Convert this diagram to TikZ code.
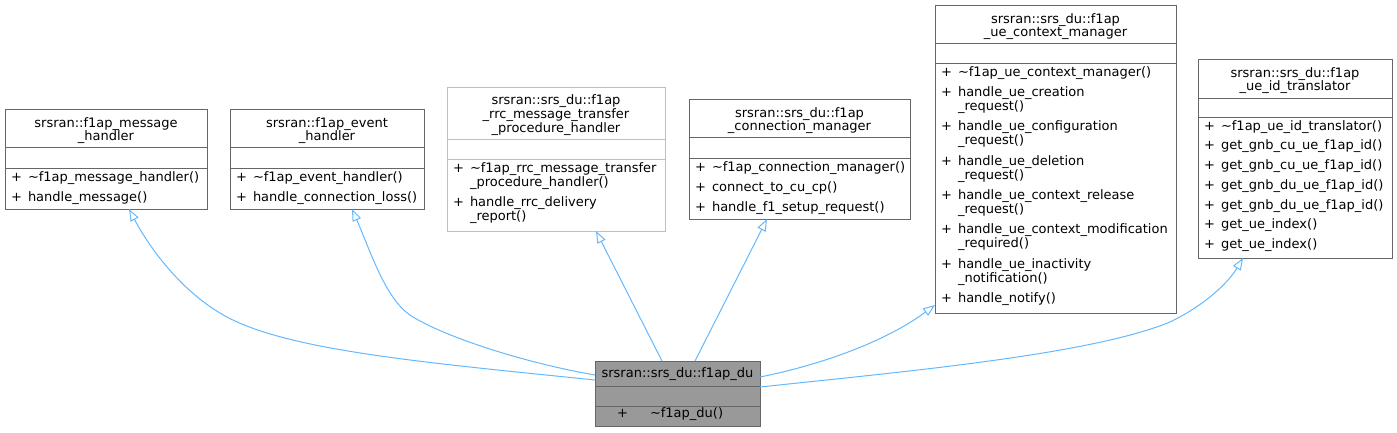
\documentclass[tikz,border=0pt]{standalone}
\usepackage{fontspec}
\usetikzlibrary{arrows.meta,calc}
\newfontfamily\dvsans{DejaVu Sans}
\newcommand\umlfont{\dvsans\fontsize{13bp}{14bp}\selectfont}
\definecolor{edgeblue}{HTML}{63B8FF}
\definecolor{boxgray}{HTML}{666666}
\definecolor{lightgray}{HTML}{BFBFBF}
\definecolor{dufill}{HTML}{999999}
\tikzset{
  umlbox/.style={draw=boxgray, line width=1bp, inner sep=0pt, outer sep=0pt, anchor=north west},
  sepline/.style={draw=boxgray, line width=1bp},
  ttl/.style={inner sep=0pt, outer sep=0pt, anchor=base, font=\umlfont},
  memb/.style={inner sep=0pt, outer sep=0pt, anchor=base west, font=\umlfont},
  inh/.style={draw=edgeblue, line width=1bp, -{Triangle[open, length=12bp, width=9bp]}},
}
\begin{document}
\begin{tikzpicture}[x=1bp,y=-1bp]
\useasboundingbox (0,0) rectangle (1397,432);
% ---------- box 1
\node[umlbox, minimum width=202bp, minimum height=100bp] (b1) at (5,109) {};
\draw[sepline] (5,147) -- (207,147) (5,168) -- (207,168);
\node[ttl] (b1t1) at (106,127) {srsran::f1ap\_message};
\node[ttl] (b1t2) at (106,140.5) {\_handler};
\node[memb] (b1p1) at (11,181) {+};
\node[memb] (b1m1) at (28,181) {\textasciitilde f1ap\_message\_handler()};
\node[memb] (b1p2) at (11,201) {+};
\node[memb] (b1m2) at (28,201) {handle\_message()};
% ---------- box 2
\node[umlbox, minimum width=194bp, minimum height=100bp] (b2) at (230,109) {};
\draw[sepline] (230,147) -- (424,147) (230,168) -- (424,168);
\node[ttl] (b2t1) at (327,127) {srsran::f1ap\_event};
\node[ttl] (b2t2) at (327,140.5) {\_handler};
\node[memb] (b2p1) at (236,181) {+};
\node[memb] (b2m1) at (253,181) {\textasciitilde f1ap\_event\_handler()};
\node[memb] (b2p2) at (236,201) {+};
\node[memb] (b2m2) at (253,201) {handle\_connection\_loss()};
% ---------- box 3
\node[umlbox, draw=lightgray, minimum width=218bp, minimum height=144bp] (b3) at (447,87) {};
\draw[sepline, draw=lightgray] (447,139) -- (665,139) (447,159) -- (665,159);
\node[ttl] (b3t1) at (556,104) {srsran::srs\_du::f1ap};
\node[ttl] (b3t2) at (556,118) {\_rrc\_message\_transfer};
\node[ttl] (b3t3) at (556,132) {\_procedure\_handler};
\node[memb] (b3p1) at (453,172) {+};
\node[memb] (b3m1) at (470,172) {\textasciitilde f1ap\_rrc\_message\_transfer};
\node[memb] (b3m1b) at (470,186) {\_procedure\_handler()};
\node[memb] (b3p2) at (453,206) {+};
\node[memb] (b3m2) at (470,206) {handle\_rrc\_delivery};
\node[memb] (b3m2b) at (470,220) {\_report()};
% ---------- box 4
\node[umlbox, minimum width=221bp, minimum height=120bp] (b4) at (689,99) {};
\draw[sepline] (689,137) -- (910,137) (689,158) -- (910,158);
\node[ttl] (b4t1) at (799.5,117) {srsran::srs\_du::f1ap};
\node[ttl] (b4t2) at (799.5,130.5) {\_connection\_manager};
\node[memb] (b4p1) at (695,171) {+};
\node[memb] (b4m1) at (712,171) {\textasciitilde f1ap\_connection\_manager()};
\node[memb] (b4p2) at (695,191) {+};
\node[memb] (b4m2) at (712,191) {connect\_to\_cu\_cp()};
\node[memb] (b4p3) at (695,211) {+};
\node[memb] (b4m3) at (712,211) {handle\_f1\_setup\_request()};
% ---------- box 5
\node[umlbox, minimum width=241bp, minimum height=308bp] (b5) at (935,5) {};
\draw[sepline] (935,43) -- (1176,43) (935,63) -- (1176,63);
\node[ttl] (b5t1) at (1055.5,23) {srsran::srs\_du::f1ap};
\node[ttl] (b5t2) at (1055.5,36.5) {\_ue\_context\_manager};
\node[memb] (b5p1) at (941,76) {+};
\node[memb] (b5m1) at (958,76) {\textasciitilde f1ap\_ue\_context\_manager()};
\node[memb] (b5p2) at (941,96.5) {+};
\node[memb] (b5m2) at (958,96.5) {handle\_ue\_creation};
\node[memb] (b5m2b) at (958,110.5) {\_request()};
\node[memb] (b5p3) at (941,130.8) {+};
\node[memb] (b5m3) at (958,130.8) {handle\_ue\_configuration};
\node[memb] (b5m3b) at (958,144.8) {\_request()};
\node[memb] (b5p4) at (941,165.1) {+};
\node[memb] (b5m4) at (958,165.1) {handle\_ue\_deletion};
\node[memb] (b5m4b) at (958,179.1) {\_request()};
\node[memb] (b5p5) at (941,199.4) {+};
\node[memb] (b5m5) at (958,199.4) {handle\_ue\_context\_release};
\node[memb] (b5m5b) at (958,213.4) {\_request()};
\node[memb] (b5p6) at (941,233.7) {+};
\node[memb] (b5m6) at (958,233.7) {handle\_ue\_context\_modification};
\node[memb] (b5m6b) at (958,247.7) {\_required()};
\node[memb] (b5p7) at (941,268) {+};
\node[memb] (b5m7) at (958,268) {handle\_ue\_inactivity};
\node[memb] (b5m7b) at (958,282) {\_notification()};
\node[memb] (b5p8) at (941,302.3) {+};
\node[memb] (b5m8) at (958,302.3) {handle\_notify()};
% ---------- box 6
\node[umlbox, minimum width=194bp, minimum height=199bp] (b6) at (1198,59) {};
\draw[sepline] (1198,98) -- (1392,98) (1198,117) -- (1392,117);
\node[ttl] (b6t1) at (1295,77) {srsran::srs\_du::f1ap};
\node[ttl] (b6t2) at (1295,90.5) {\_ue\_id\_translator};
\node[memb] (b6p1) at (1204,130) {+};
\node[memb] (b6m1) at (1221,130) {\textasciitilde f1ap\_ue\_id\_translator()};
\node[memb] (b6p2) at (1204,149.75) {+};
\node[memb] (b6m2) at (1221,149.75) {get\_gnb\_cu\_ue\_f1ap\_id()};
\node[memb] (b6p3) at (1204,169.5) {+};
\node[memb] (b6m3) at (1221,169.5) {get\_gnb\_cu\_ue\_f1ap\_id()};
\node[memb] (b6p4) at (1204,189.25) {+};
\node[memb] (b6m4) at (1221,189.25) {get\_gnb\_du\_ue\_f1ap\_id()};
\node[memb] (b6p5) at (1204,209) {+};
\node[memb] (b6m5) at (1221,209) {get\_gnb\_du\_ue\_f1ap\_id()};
\node[memb] (b6p6) at (1204,228.75) {+};
\node[memb] (b6m6) at (1221,228.75) {get\_ue\_index()};
\node[memb] (b6p7) at (1204,248.5) {+};
\node[memb] (b6m7) at (1221,248.5) {get\_ue\_index()};
% ---------- derived class
\node[umlbox, fill=dufill, minimum width=165bp, minimum height=65bp] (du) at (595,361) {};
\draw[sepline] (595,386) -- (760,386) (595,406) -- (760,406);
\node[ttl] (dut) at (677.5,377.5) {srsran::srs\_du::f1ap\_du};
\node[memb] (dup) at (617,417) {+};
\node[memb] (dum) at (650,417) {\textasciitilde f1ap\_du()};
% ---------- inheritance connectors
\draw[inh] ($(du.north west)+(0,19)$) .. controls (420,362) and (280,350) .. (220,313)
  .. controls (178,288) and (148,245) .. ($(b1.south west)+(124,0)$);
\draw[inh] ($(du.north west)+(0,14)$) .. controls (520,362) and (440,335) .. (410,315)
  .. controls (385,298) and (370,250) .. ($(b2.south west)+(122,0)$);
\draw[inh] ($(du.north west)+(67,0)$) -- ($(b3.south west)+(149,0)$);
\draw[inh] ($(du.north west)+(100,0)$) -- ($(b4.south west)+(78,0)$);
\draw[inh] ($(du.north east)+(0,16)$) .. controls (820,365) and (885,342) .. ($(b5.south west)+(0,-8)$);
\draw[inh] ($(du.north east)+(0,26)$) .. controls (900,372) and (1090,355) .. (1170,322)
  .. controls (1205,305) and (1228,283) .. ($(b6.south west)+(45,0)$);
\end{tikzpicture}
\end{document}
